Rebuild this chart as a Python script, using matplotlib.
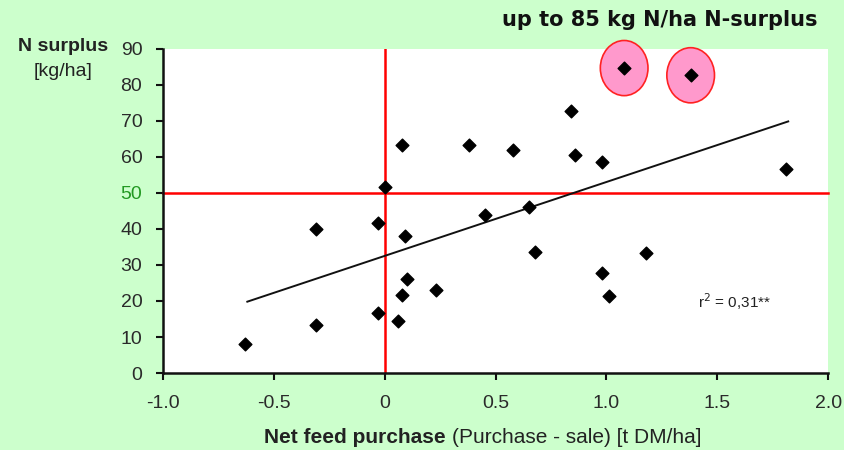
import matplotlib
matplotlib.use("Agg")
import matplotlib.pyplot as plt
from matplotlib.patches import Ellipse

plt.rcParams["font.family"] = ["Liberation Sans", "DejaVu Sans"]

# Net feed purchase [t DM/ha] vs N surplus [kg/ha]
feed_x = [-0.63, -0.31, -0.31, -0.03, -0.03, 0.09, 0.10, 0.08, 0.06, 0.00, 0.08,
          0.23, 0.45, 0.65, 0.68, 0.98, 1.01, 1.18, 0.38, 0.58, 0.84, 0.86, 0.98,
          1.81]
n_surplus = [8.1, 39.9, 13.2, 41.6, 16.6, 37.9, 26.0, 21.7, 14.5, 51.5, 63.2,
             23.0, 43.9, 46.0, 33.7, 27.7, 21.5, 33.4, 63.3, 62.0, 72.8, 60.4, 58.5,
             56.6]

# highlighted farms (circled)
hi_x = [1.08, 1.38]
hi_y = [84.6, 82.6]

# regression line end points
trend_x = [-0.62, 1.82]
trend_y = [19.8, 69.8]

threshold_y = 50
xticks = [-1.0, -0.5, 0.0, 0.5, 1.0, 1.5, 2.0]
xtick_labels = ["-1.0", "-0.5", "0", "0.5", "1.0", "1.5", "2.0"]
yticks = [0, 10, 20, 30, 40, 50, 60, 70, 80, 90]

bg = "#ccffcc"
fig = plt.figure(figsize=(8.45, 4.5), dpi=100, facecolor=bg)
ax = fig.add_axes([0.193, 0.171, 0.787, 0.721])
ax.set_facecolor("white")

ax.set_xlim(-1.0, 2.0)
ax.set_ylim(0, 90)

# reference lines
ax.axhline(threshold_y, color="#ff0000", linewidth=1.8, zorder=2, clip_on=False)
ax.axvline(0, color="#ff0000", linewidth=1.8, zorder=2)

ax.plot(trend_x, trend_y, color="#111111", linewidth=1.4, zorder=3)

# circles around the high-surplus farms
for x, y in zip(hi_x, hi_y):
    e = Ellipse((x, y), 0.215, 15.3, facecolor="#ff99cc", edgecolor="#ff2222",
                linewidth=1.2, zorder=3, clip_on=False)
    ax.add_patch(e)

ax.scatter(feed_x + hi_x, n_surplus + hi_y, marker="D", s=42, color="black",
           zorder=4, clip_on=False)

for side in ("top", "right"):
    ax.spines[side].set_visible(False)
for side in ("left", "bottom"):
    ax.spines[side].set_linewidth(1.8)
    ax.spines[side].set_color("#111111")

ax.set_xticks(xticks)
ax.set_xticklabels(xtick_labels)
ax.set_yticks(yticks)
ax.tick_params(direction="out", length=5, width=1.5, labelsize=14,
               labelcolor="#2a2a2a", color="#111111")
ax.tick_params(axis="x", pad=11)
ax.tick_params(axis="y", pad=10)
for lbl in ax.get_yticklabels():
    if lbl.get_text() == "50":
        lbl.set_color("#229922")

# axis titles
fig.text(0.075, 0.897, "N surplus", ha="center", va="center", fontsize=14,
         fontweight="bold", color="#222222")
fig.text(0.075, 0.84, "[kg/ha]", ha="center", va="center", fontsize=14,
         color="#222222")
fig.text(0.527, 0.028, "Net feed purchase", ha="right", va="center", fontsize=15,
         fontweight="bold", color="#222222")
fig.text(0.535, 0.028, "(Purchase - sale) [t DM/ha]", ha="left", va="center",
         fontsize=15, color="#222222")

fig.text(0.967, 0.955, "up to 85 kg N/ha N-surplus", ha="right", va="center",
         fontsize=15, fontweight="bold", family="DejaVu Sans", color="#111111")

ax.text(1.415, 18.0, "r$^2$ = 0,31**", fontsize=11, color="#222222")

fig.savefig("out.png", dpi=100, facecolor=bg)
